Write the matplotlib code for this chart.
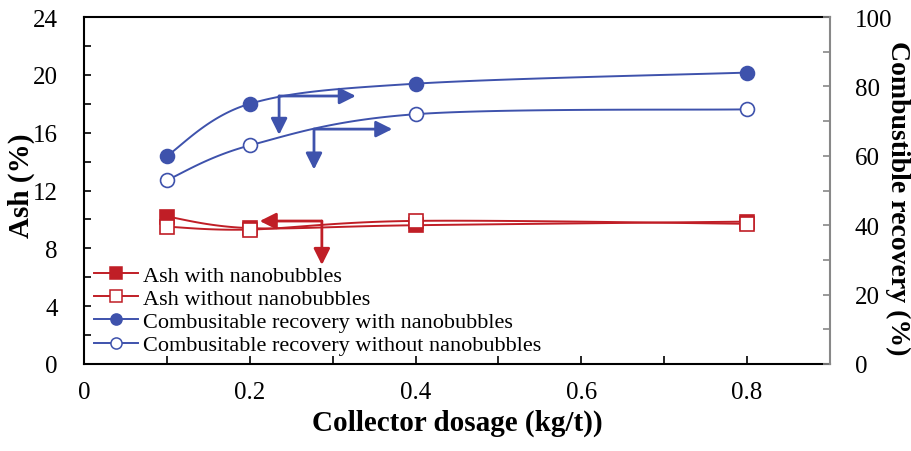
import numpy as np
import matplotlib
matplotlib.use("Agg")
import matplotlib.pyplot as plt

plt.rcParams["font.family"] = ["Liberation Serif", "DejaVu Serif"]

COL_RED = (192/255.0, 30/255.0, 38/255.0)
COL_BLUE = (62/255.0, 82/255.0, 172/255.0)

dosage = [0.1, 0.2, 0.4, 0.8]
ash_with = [10.2, 9.4, 9.6, 9.85]
ash_without = [9.5, 9.3, 9.9, 9.7]
rec_with = [60.0, 75.0, 80.8, 84.0]
rec_without = [53.0, 63.0, 72.0, 73.4]

x_ticks = [0, 0.2, 0.4, 0.6, 0.8]
ash_ticks = [0, 4, 8, 12, 16, 20, 24]
rec_ticks = [0, 20, 40, 60, 80, 100]

# arrow annotations: (corner x, corner y, horizontal end x, vertical end y) in left-axis units
arrows_blue = [(0.2354, 18.54, 0.328, 15.85), (0.2775, 16.25, 0.372, 13.45)]
arrows_red = [(0.287, 9.89, 0.212, 6.85)]


def _smooth(x, y, n=40):
    # Excel style smoothed line: cubic bezier with catmull-rom control points
    x = np.asarray(x, float)
    y = np.asarray(y, float)
    px = np.concatenate([[x[0]], x, [x[-1]]])
    py = np.concatenate([[y[0]], y, [y[-1]]])
    xs, ys = [], []
    t = np.linspace(0, 1, n)
    for i in range(1, len(px) - 2):
        p0 = np.array([px[i], py[i]])
        p3 = np.array([px[i + 1], py[i + 1]])
        c1 = p0 + (np.array([px[i + 1], py[i + 1]]) - np.array([px[i - 1], py[i - 1]])) / 6.0
        c2 = p3 - (np.array([px[i + 2], py[i + 2]]) - np.array([px[i], py[i]])) / 6.0
        b = ((1 - t) ** 3)[:, None] * p0 + (3 * (1 - t) ** 2 * t)[:, None] * c1 \
            + (3 * (1 - t) * t ** 2)[:, None] * c2 + (t ** 3)[:, None] * p3
        xs.extend(b[:, 0])
        ys.extend(b[:, 1])
    return xs, ys


fig, ax = plt.subplots(figsize=(9.11, 4.52), dpi=100)
fig.subplots_adjust(left=0.0922, right=0.911, top=0.960, bottom=0.1925)
ax2 = ax.twinx()

lw = 1.4
ms = 10
handles = []
for ys, axis, col, mfc, mk, lab in [
    (ash_with, ax, COL_RED, COL_RED, "s", "Ash with nanobubbles"),
    (ash_without, ax, COL_RED, "white", "s", "Ash without nanobubbles"),
    (rec_with, ax2, COL_BLUE, COL_BLUE, "o", "Combusitable recovery with nanobubbles"),
    (rec_without, ax2, COL_BLUE, "white", "o", "Combusitable recovery without nanobubbles"),
]:
    sx, sy = _smooth(dosage, ys)
    axis.plot(sx, sy, color=col, lw=lw)
    axis.plot(dosage, ys, linestyle="none", marker=mk, ms=ms, mfc=mfc, mec=col, mew=1.2)
    h, = axis.plot([], [], color=col, lw=lw, marker=mk, ms=8, mfc=mfc, mec=col, mew=1.1, label=lab)
    handles.append(h)

for arrows, col in [(arrows_blue, COL_BLUE), (arrows_red, COL_RED)]:
    for cx, cy, hx, vy in arrows:
        props = dict(arrowstyle="-|>,head_length=0.7,head_width=0.35", color=col, lw=2.0,
                     shrinkA=0, shrinkB=0, mutation_scale=14)
        ax.annotate("", xy=(hx, cy), xytext=(cx, cy), arrowprops=props, zorder=5)
        ax.annotate("", xy=(cx, vy), xytext=(cx, cy), arrowprops=props, zorder=5)

ax.set_xlim(0, 0.9)
ax.set_ylim(0, 24)
ax2.set_ylim(0, 100)
ax.set_xticks(x_ticks)
ax.set_xticklabels(["0", "0.2", "0.4", "0.6", "0.8"])
ax.set_xticks(np.arange(0.1, 0.9, 0.2), minor=True)
ax.set_yticks(ash_ticks)
ax.set_yticks(np.arange(2, 24, 4), minor=True)
ax2.set_yticks(rec_ticks)
ax2.set_yticks(np.arange(10, 100, 20), minor=True)

ax.tick_params(axis="both", which="both", direction="in", labelsize=18, length=5, width=1.2, pad=19)
ax.tick_params(axis="x", which="both", length=6, pad=12)
ax2.tick_params(axis="y", which="both", direction="in", labelsize=18, length=5, width=1.2,
                pad=18, color="#888888")

for s in ["left", "bottom", "top"]:
    ax.spines[s].set_linewidth(1.5)
ax.spines["right"].set_visible(False)
ax2.spines["right"].set_color("#888888")
ax2.spines["right"].set_linewidth(1.5)
for s in ["left", "bottom", "top"]:
    ax2.spines[s].set_visible(False)

ax.set_xlabel("Collector dosage (kg/t))", fontsize=21, fontweight="bold", labelpad=4)
ax.set_ylabel("Ash (%)", fontsize=21, fontweight="bold", va="center")
ax.yaxis.set_label_coords(-0.084, 0.516)
ax2.set_ylabel("Combustible recovery (%)", fontsize=20, fontweight="bold", rotation=270, va="center")
ax2.yaxis.set_label_coords(1.091, 0.48)

ax.legend(handles=handles, loc="lower left", bbox_to_anchor=(-0.008, -0.02), frameon=False,
          fontsize=16, handlelength=2.0, handletextpad=0.23, labelspacing=0.12, borderaxespad=0.3)

fig.savefig("out.png", dpi=100)
